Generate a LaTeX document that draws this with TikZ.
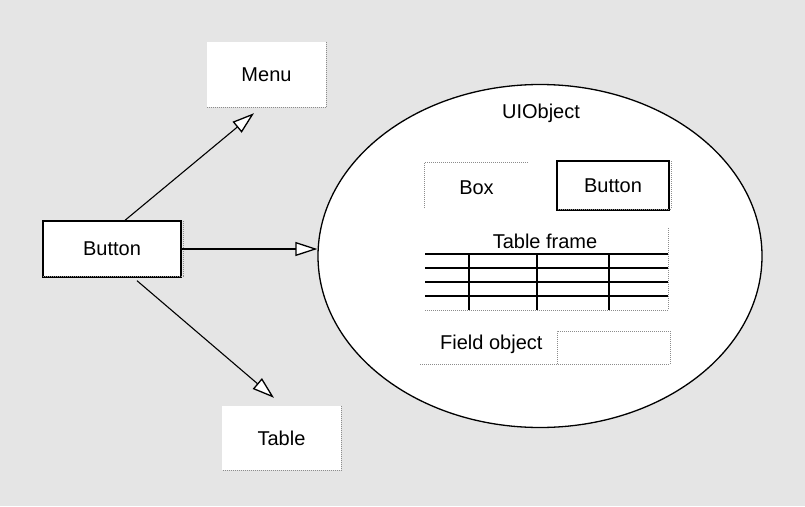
\documentclass[tikz,border=0pt]{standalone}
\usepackage{fontspec}
\setmainfont{Liberation Sans}
\usetikzlibrary{arrows.meta,shapes.geometric,calc}
\definecolor{bgpaper}{rgb}{0.9,0.9,0.9}
\definecolor{edgegray}{rgb}{0.55,0.55,0.55}
\tikzset{
  lbl/.style={font=\fontsize{20}{24}\selectfont, text=black},
  plainbox/.style={fill=white, inner sep=0pt, lbl},
  framed/.style={plainbox, draw=black, line width=1.4pt},
  shadowedge/.style={draw=edgegray, line width=1pt, densely dotted},
  gridline/.style={draw=black, line width=1.1pt},
  arr/.style={draw=black, line width=1.1pt,
    -{Triangle[length=22pt, width=14pt, fill=white, line width=1.3pt]}},
}
\begin{document}
\begin{tikzpicture}[x=1pt, y=-1pt]
  % paper
  \fill[bgpaper] (0,0) rectangle (805,506);
  \useasboundingbox (0,0) rectangle (805,506);

  % the UIObject container
  \node[ellipse, draw=black, fill=white, line width=1.3pt,
        minimum width=444pt, minimum height=343pt, inner sep=0pt] (ui) at (540,256) {};
  \node[lbl] (uititle) at (541,113) {UIObject};

  % outer objects
  \node[plainbox, minimum width=119pt, minimum height=65pt] (menu) at (266.5,74.5) {Menu};
  \draw[shadowedge] (menu.north east) -- (menu.south east) -- (menu.south west);

  \node[framed, minimum width=138pt, minimum height=56pt] (btn) at (112,249) {Button};
  \draw[shadowedge] ([xshift=1.5pt,yshift=-1pt]btn.north east) -- ([xshift=1.5pt,yshift=1.5pt]btn.south east) -- ([xshift=1pt,yshift=1.5pt]btn.south west);

  \node[plainbox, minimum width=119pt, minimum height=64pt] (tbl) at (281.5,438) {Table};
  \draw[shadowedge] (tbl.north east) -- (tbl.south east) -- (tbl.south west);

  % inner box (sunken edge)
  \node[plainbox, minimum width=103pt, minimum height=45pt, text depth=0pt] (box) at (476.5,185.5) {\raisebox{-4pt}{Box}};
  \draw[shadowedge] (box.south west) -- (box.north west) -- (box.north east);

  % inner button
  \node[framed, minimum width=112pt, minimum height=49pt] (ibtn) at (613,185.5) {Button};
  \draw[shadowedge] ([xshift=1.5pt,yshift=-1pt]ibtn.north east) -- ([xshift=1.5pt,yshift=1.5pt]ibtn.south east) -- ([xshift=1pt,yshift=1.5pt]ibtn.south west);

  % table frame
  \coordinate (tfnw) at (425,228);
  \coordinate (tfse) at (668,310);
  \draw[shadowedge] (tfnw -| tfse) -- (tfse) -- (tfse -| tfnw);
  \node[lbl] (tftitle) at (545,241) {Table frame};
  \foreach \yy in {254,268,282,296} {
    \draw[gridline] (425,\yy) -- (668,\yy);
  }
  \foreach \xx in {469,537,609} {
    \draw[gridline] (\xx,254) -- (\xx,310);
  }

  % field object
  \node[lbl, anchor=east] (fieldlbl) at (546,344) {Field object};
  \coordinate (fbnw) at (557,331);
  \coordinate (fbse) at (670,364);
  \draw[shadowedge] (fbnw |- fbse) -- (fbnw) -- (fbnw -| fbse) -- (fbse);
  \draw[shadowedge] (420,364) -- (fbse);

  % connectors
  \draw[arr] ($(btn.north)+(13,0)$) -- ($(menu.south)+(-12.5,6)$);
  \draw[arr] (btn.east) -- (btn.east -| ui.west);
  \draw[arr] ($(btn.south)+(25,3)$) -- ($(tbl.north)+(-7.5,-8)$);
\end{tikzpicture}
\end{document}
